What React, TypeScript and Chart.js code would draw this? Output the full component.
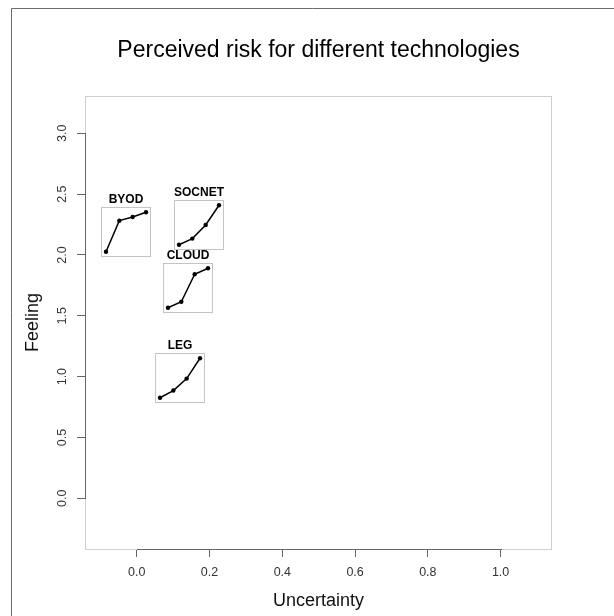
import React, { useEffect, useRef } from "react";
import { Chart, registerables } from "chart.js";

Chart.register(...registerables);

// ---- data ----
const technologies = ["BYOD", "SOCNET", "CLOUD", "LEG"];
const uncertainty = [-0.03, 0.17, 0.14, 0.12];
const feeling = [2.19, 2.25, 1.73, 0.99];
const periods = [1, 2, 3, 4];
const byodTrend = [2.03, 2.29, 2.32, 2.36];
const socnetTrend = [2.09, 2.14, 2.25, 2.41];
const cloudTrend = [1.57, 1.62, 1.85, 1.9];
const legTrend = [0.83, 0.89, 0.99, 1.16];
const trends = [byodTrend, socnetTrend, cloudTrend, legTrend];
const xTicks = [0, 0.2, 0.4, 0.6, 0.8, 1.0];
const yTicks = [0, 0.5, 1.0, 1.5, 2.0, 2.5, 3.0];

const FONT = "'Liberation Sans', Arial, Helvetica, sans-serif";
const W = 614;
const H = 616;
const MINI_W = 70;
const MINI_H = 80;

const framePlugin = {
  id: "frame",
  afterDraw(chart: any) {
    const { ctx, chartArea } = chart;
    const xs = chart.scales.x;
    const ys = chart.scales.y;
    ctx.save();
    ctx.lineWidth = 1;
    // outer frame
    ctx.strokeStyle = "#6e6e6e";
    ctx.beginPath();
    ctx.moveTo(11.5, H);
    ctx.lineTo(11.5, 8.5);
    ctx.lineTo(W, 8.5);
    ctx.stroke();
    // plot box
    ctx.strokeStyle = "#cfcfcf";
    ctx.strokeRect(
      chartArea.left + 0.5,
      chartArea.top + 0.5,
      chartArea.right - chartArea.left - 1,
      chartArea.bottom - chartArea.top
    );
    // axis lines
    ctx.strokeStyle = "#666666";
    ctx.beginPath();
    const by = chartArea.bottom + 0.5;
    ctx.moveTo(Math.round(xs.getPixelForValue(xTicks[0])), by);
    ctx.lineTo(Math.round(xs.getPixelForValue(xTicks[xTicks.length - 1])) + 1, by);
    const lx = chartArea.left + 0.5;
    ctx.moveTo(lx, Math.round(ys.getPixelForValue(yTicks[0])) + 1);
    ctx.lineTo(lx, Math.round(ys.getPixelForValue(yTicks[yTicks.length - 1])));
    ctx.stroke();
    ctx.restore();
  },
};

const boxPlugin = {
  id: "minibox",
  beforeDatasetsDraw(chart: any) {
    const { ctx, chartArea } = chart;
    ctx.save();
    ctx.strokeStyle = "#c4c4c4";
    ctx.lineWidth = 1;
    ctx.strokeRect(
      chartArea.left + 0.5,
      chartArea.top + 0.5,
      chartArea.right - chartArea.left - 1,
      chartArea.bottom - chartArea.top - 1
    );
    ctx.restore();
  },
};

export default function App() {
  const mainRef = useRef<HTMLCanvasElement | null>(null);
  const miniRefs = useRef<(HTMLCanvasElement | null)[]>([]);

  useEffect(() => {
    const charts: any[] = [];
    const main = new Chart(mainRef.current as HTMLCanvasElement, {
      type: "scatter",
      data: {
        datasets: [
          {
            data: technologies.map((_, i) => ({ x: uncertainty[i], y: feeling[i] })),
            pointRadius: 0,
            showLine: false,
          },
        ],
      },
      options: {
        animation: false,
        responsive: false,
        devicePixelRatio: 1,
        events: [],
        layout: { padding: { left: 0, right: 62, top: 0, bottom: 0 } },
        plugins: {
          legend: { display: false },
          tooltip: { enabled: false },
          title: {
            display: true,
            fullSize: false,
            text: "Perceived risk for different technologies",
            color: "#000",
            font: { family: FONT, size: 23, weight: "normal", lineHeight: "28px" },
            padding: { top: 37, bottom: 31 },
          },
        },
        scales: {
          x: {
            type: "linear",
            min: -0.1424,
            max: 1.1413,
            afterFit: (s: any) => {
              s.height = 67;
            },
            afterBuildTicks: (s: any) => {
              s.ticks = xTicks.map((v) => ({ value: v }));
            },
            border: { display: false },
            grid: { drawOnChartArea: false, drawTicks: true, tickLength: 8, color: "#666" },
            ticks: {
              autoSkip: false,
              maxRotation: 0,
              padding: 8,
              color: "#333",
              font: { family: FONT, size: 12.5 },
              callback: (v: any) => Number(v).toFixed(1),
            },
            title: {
              display: true,
              text: "Uncertainty",
              color: "#111",
              font: { family: FONT, size: 18, lineHeight: "22px" },
              padding: { top: 0, bottom: 4 },
            },
          },
          y: {
            type: "linear",
            min: -0.417,
            max: 3.307,
            afterFit: (s: any) => {
              s.width = 85;
            },
            afterBuildTicks: (s: any) => {
              s.ticks = yTicks.map((v) => ({ value: v }));
            },
            border: { display: false },
            grid: { drawOnChartArea: false, drawTicks: true, tickLength: 8, color: "#666" },
            ticks: {
              autoSkip: false,
              minRotation: 90,
              maxRotation: 90,
              crossAlign: "center",
              padding: 6,
              color: "#333",
              font: { family: FONT, size: 12.5 },
              callback: (v: any) => Number(v).toFixed(1),
            },
            title: {
              display: true,
              text: "Feeling",
              color: "#111",
              font: { family: FONT, size: 18, lineHeight: "22px" },
              padding: { top: 22, bottom: 0 },
            },
          },
        },
      } as any,
      plugins: [framePlugin],
    });
    charts.push(main);

    const xs: any = main.scales.x;
    const ys: any = main.scales.y;

    trends.forEach((trend, i) => {
      const cv = miniRefs.current[i];
      if (!cv) return;
      const cx = xs.getPixelForValue(uncertainty[i]);
      const cy = ys.getPixelForValue(feeling[i]);
      cv.style.left = Math.round(cx - MINI_W / 2) + "px";
      cv.style.top = Math.round(cy - 45) + "px";
      const lo = Math.min(...trend);
      const hi = Math.max(...trend);
      const pad = (hi - lo) * 0.133;
      const mini = new Chart(cv, {
        type: "scatter",
        data: {
          datasets: [
            {
              data: periods.map((p, j) => ({ x: p, y: trend[j] })),
              showLine: true,
              borderColor: "#000",
              borderWidth: 1.5,
              pointRadius: 2.2,
              pointBackgroundColor: "#000",
              pointBorderColor: "#000",
              pointBorderWidth: 0,
              tension: 0,
            },
          ],
        },
        options: {
          animation: false,
          responsive: false,
          devicePixelRatio: 1,
          events: [],
          layout: { padding: { left: 10, right: 10, top: 0, bottom: 10 } },
          plugins: {
            legend: { display: false },
            tooltip: { enabled: false },
            title: {
              display: true,
              text: technologies[i],
              color: "#000",
              font: { family: FONT, size: 12, weight: "bold", lineHeight: "14px" },
              padding: { top: 6, bottom: 0 },
            },
          },
          scales: {
            x: { type: "linear", display: false, min: 0.625, max: 4.375 },
            y: { type: "linear", display: false, min: lo - pad, max: hi + pad },
          },
        } as any,
        plugins: [boxPlugin],
      });
      charts.push(mini);
    });

    return () => {
      charts.forEach((c) => c.destroy());
    };
  }, []);

  return (
    <div
      style={{
        position: "absolute",
        left: 0,
        top: 0,
        width: W,
        height: H,
        background: "#fff",
        overflow: "hidden",
      }}
    >
      <canvas
        ref={mainRef}
        width={W}
        height={H}
        style={{ position: "absolute", left: 0, top: 0, width: W, height: H }}
      />
      {technologies.map((t, i) => (
        <canvas
          key={t}
          ref={(el) => {
            miniRefs.current[i] = el;
          }}
          width={MINI_W}
          height={MINI_H}
          style={{ position: "absolute", left: 0, top: 0, width: MINI_W, height: MINI_H }}
        />
      ))}
    </div>
  );
}
